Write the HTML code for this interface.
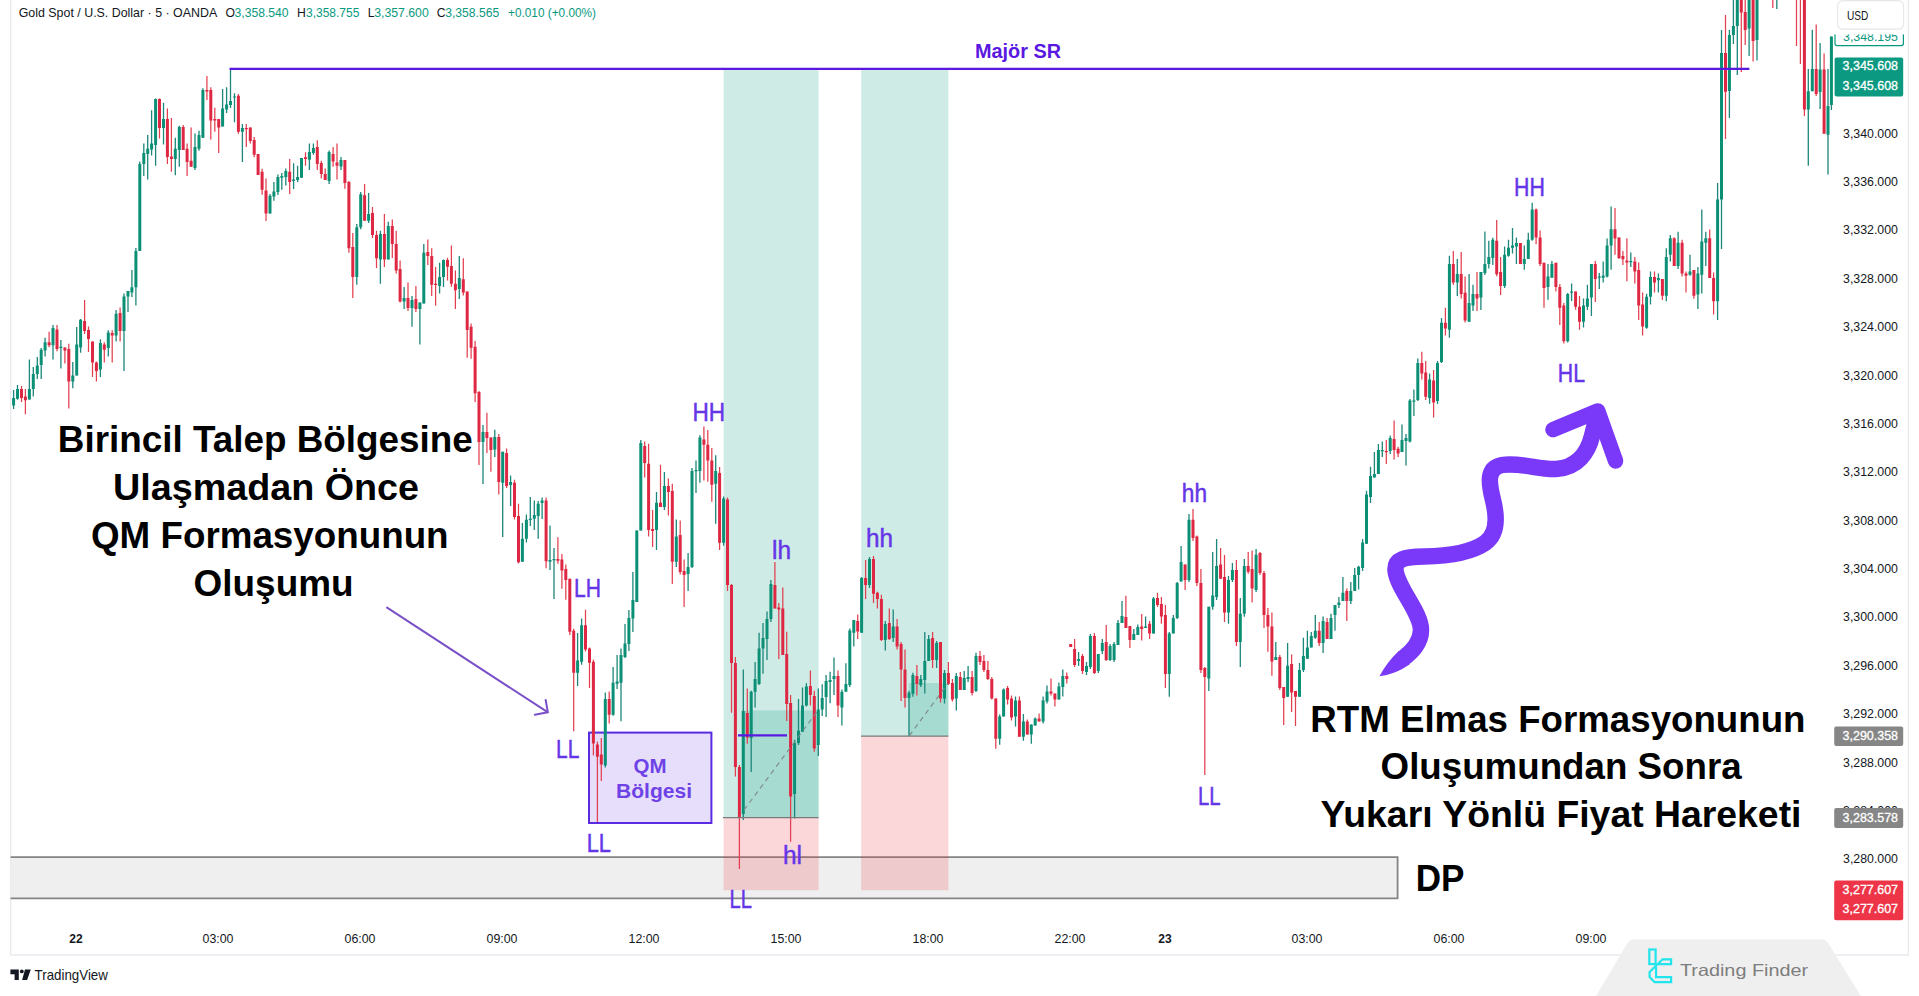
<!DOCTYPE html>
<html lang="tr"><head><meta charset="utf-8"><title>Gold Spot / U.S. Dollar - RTM Elmas Formasyonu</title>
<style>html,body{margin:0;padding:0;background:#fff;overflow:hidden}body{width:1919px;height:996px;font-family:"Liberation Sans",sans-serif}svg{display:block}text{font-family:"Liberation Sans",sans-serif}</style>
</head><body>
<svg width="1919" height="996" viewBox="0 0 1919 996">
<rect width="1919" height="996" fill="#ffffff"/>
<g stroke="#e9eaee" stroke-width="1.4" fill="none"><line x1="10.6" y1="0" x2="10.6" y2="955"/><line x1="1908.4" y1="0" x2="1908.4" y2="955"/><line x1="10" y1="955" x2="1909" y2="955"/></g>
<g id="dp"><rect x="10.6" y="857.2" width="1387" height="41.2" fill="#efefef"/><path d="M10.6 857.2H1397.6V898.4H10.6" fill="none" stroke="#848484" stroke-width="1.8"/></g>
<g id="positions">
<rect x="723.6" y="69" width="95" height="748.6" fill="#089981" fill-opacity="0.2"/>
<rect x="741.6" y="710.4" width="77" height="107.2" fill="#089981" fill-opacity="0.2"/>
<rect x="723.6" y="817.6" width="95" height="72.6" fill="#f23645" fill-opacity="0.2"/>
<rect x="861.2" y="69" width="87.2" height="667.2" fill="#089981" fill-opacity="0.2"/>
<rect x="908.8" y="683" width="39.6" height="53.2" fill="#089981" fill-opacity="0.2"/>
<rect x="861.2" y="736.2" width="87.2" height="154" fill="#f23645" fill-opacity="0.2"/>
</g>
<rect x="589" y="732.6" width="122.4" height="90.4" fill="#e6defb" stroke="#5a2be0" stroke-width="2"/>
<g id="candles" shape-rendering="auto">
<path d="M13.6 390V409M17.5 385V399.8M29.4 359.6V399.5M33.3 367V396.5M37.3 357V379M41.2 348V379M45.1 337.8V356.6M53 325V359.6M60.9 340V368.6M72.8 361.9V388.2M76.7 327V375.4M80.6 319V352.8M100.4 339.3V377M108.3 330.2V356.6M116.1 310V341.5M124 293.4V371M128 291V312M131.9 270V297M135.9 248V305.4M139.8 161.5V251M143.8 143.6V176M147.7 135V179.5M151.6 110.3V155.6M155.6 98.4V165.8M163.5 102.7V144.5M175.3 137.7V175.2M179.3 125.7V166.7M195 133.4V170M199 130.8V150.8M202.9 88.2V137.7M222.6 89V126.6M226.6 87.3V113M230.5 68V108M234.5 93.3V122.3M242.4 124V162M270 194V213.6M273.9 182V200.8M277.9 174.4V195M281.8 173V189.7M285.8 168.4V185.4M293.6 163.3V188.9M297.6 165.8V182M301.5 158V177.8M309.4 143.6V170M313.4 143.6V154.7M329.1 150.5V184M341 157V170M356.8 224V284.8M360.7 192V229.3M368.6 193V223M380.4 230.7V283.7M388.3 221.8V259.4M404.1 287V309M412 296V326.8M419.9 302.5V344.5M423.8 244V303.6M439.6 262.7V293.6M443.5 259.4V287M459.3 256V299M483 425V484M494.8 429.7V457M502.7 451.8V537M510.6 475.5V506M522.4 523V561.7M526.4 514.4V542.4M530.3 497V526M534.3 500.4V530M538.2 501V538.7M542.1 497.6V519M550 525.4V570M554 548V599M577.6 633V686M581.6 618.6V664.7M605.3 692.6V767.5M613.1 667V715.7M617.1 655V689M621 648.4V721.3M625 624V658M628.9 610V651M632.9 572V632M636.8 530.6V602M640.8 440V530.6M656.5 492V550M664.4 472V510M676.3 519.6V567M688.1 553V591M692 468V568M696 460.6V493M699.9 435.3V482.7M715.7 455.3V523.8M723.6 496.4V545.8M743.3 669.6V820M751.2 690.7V772M755.1 662V707.5M759.1 632.7V685M763 623V673.8M767 611.6V660M770.9 580V622M794.6 739.7V818.6M798.5 699V745M802.5 687.5V731.8M806.4 683.3V706.4M818.3 688.6V756M822.2 684.3V716M826.1 674.9V717M830.1 671.7V703.3M834 657.4V694.9M841.9 689.6V725.4M845.9 663.3V691.7M849.8 628.6V687M853.8 620V646.4M861.6 576.9V632.7M869.5 557V588M885.3 621V650.6M893.2 609.5V642M909 690.8V736M912.9 672.7V696.8M920.8 675V687M924.8 632V693.5M928.7 635V661M936.6 641V668M944.5 670V703.5M956.3 673V710.5M964.2 671V690M968.1 666V682M976 652.7V692M999.7 714.6V744.7M1003.6 688.5V716.6M1015.5 696.5V726.6M1023.4 714V740.7M1031.3 724.6V743.7M1035.2 717.6V725.6M1043.1 696.5V723.6M1047 685.4V703.5M1058.9 682.4V699.5M1062.8 669.4V696.5M1078.6 652V666M1086.5 662V675M1090.4 634V669M1098.3 654V673M1102.3 639V654M1110.1 644V661M1114.1 642V662M1118 620V645M1122 601V623M1133.8 629V640M1137.8 624.6V635M1145.6 616.6V628M1153.5 597V633.5M1169.3 632V696.7M1173.3 615V633.5M1177.2 582V619M1181.1 546V581.5M1189 514V582M1208.8 606.8V691M1212.7 552V609.8M1216.6 539V600M1228.5 576V623.7M1232.4 563V582M1240.3 598V667M1244.3 559V616.8M1256.1 549V592M1275.8 642V660M1287.6 643V696.7M1299.5 663V696.7M1303.4 637.7V672M1307.4 630.7V658.8M1311.3 632V647.6M1315.3 615V638.7M1323.1 616.6V653M1331 613.8V639M1335 605V630.7M1338.9 597V608M1342.9 577V601M1350.8 582V604M1354.7 568V591M1358.6 565.7V589.6M1362.6 539V571M1366.5 490.8V543.8M1370.5 466.7V503M1374.4 452V477.6M1378.4 443.9V474M1382.3 441.4V457M1390.2 435.4V454M1402 424.6V452M1406 434V465.5M1409.9 399V442.4M1413.9 389.6V416M1417.8 358.6V401M1429.6 373.6V403.7M1437.5 361V404M1441.5 318V363M1449.4 255.8V337.8M1457.3 259V296M1469.1 274V321.7M1473 284.7V311M1480.9 272V310M1484.9 231.6V275M1488.8 240.8V268.5M1492.8 237.7V265M1504.6 246.6V287.9M1508.5 239.7V256.8M1512.5 228V253.5M1516.4 237.4V264M1524.3 245.4V269.7M1528.3 232.7V259M1532.2 202.7V240.7M1548 264V299.7M1551.9 261V277.8M1567.7 293V342.5M1571.6 283.6V301M1583.5 298.6V327.4M1587.4 284.7V310M1591.4 264V316M1599.3 273V289M1603.2 261.6V282.4M1607.1 238.5V277.6M1611.1 206.6V269.7M1630.8 252.6V267M1646.6 293.8V328.7M1650.5 271.4V304.5M1658.4 273.6V292.4M1666.3 248.2V301.2M1670.3 235V261.5M1678.1 231.7V268.9M1690 254.8V275.7M1697.9 267V309M1701.8 209.6V293.5M1705.8 231.7V265.9M1717.6 183V320M1721.5 30V249M1729.4 29.7V118M1733.4 -5V44M1737.3 -10V75M1749.1 -10V56M1757 -10V60.5M1776.8 -20V9M1808.3 69V165.7M1812.3 29.7V91.3M1820.1 43V109M1828 69V174.6M1831.4 36.5V110" stroke="#1c877a" stroke-width="1.3" fill="none"/>
<path d="M21.5 386V402M25.4 389V414.3M49.1 331.7V347.3M57 325V351.3M64.9 347.6V363.4M68.8 343.8V408.6M84.6 300V334M88.5 326.5V352M92.5 341.5V377M96.4 361.6V381.4M104.3 342.3V362.6M112.2 330.2V362.6M120.1 307.6V341.5M159.5 98.4V138.5M167.4 108.6V164M171.4 118V171.8M183.2 124.9V150M187.1 143.6V176M191.1 127.4V166.7M206.9 76V100M210.8 87.3V139.4M214.8 107.8V131.7M218.7 119V153M238.4 94V133.7M246.3 124V147M250.3 127.4V143.6M254.2 137V157.3M258.1 154V175M262.1 168.8V194.8M266 178.6V221M289.7 159V194M305.5 152.2V165.8M317.3 140.2V170M321.3 160.7V178.6M325.2 168.4V180M333.1 147V166.7M337 143.6V179.5M344.9 160V188.7M348.9 181V252.8M352.8 233V298M364.6 184V220.7M372.5 207V238M376.5 230.7V268M384.4 214V267M392.3 219.6V258M396.2 230.7V273.4M400.1 260.5V302.4M408 282.6V311M415.9 286V312M427.8 239.5V265M431.7 248.3V296M435.6 267V305.8M447.5 257.8V280.4M451.4 245.5V286.7M455.4 270.4V309M463.3 258.3V295.5M467.2 291.4V357.7M471.1 323.5V358.8M475.1 341V402M479 391V465M486.9 412.7V453M490.9 437.5V471.7M498.8 434V494.5M506.6 448.5V488M514.5 479.8V519.6M518.5 503.8V563.4M546.1 497.6V568.3M557.9 537.3V563.8M561.9 554V588.8M565.8 564.5V599.8M569.8 578.8V635M573.7 628.7V731.3M585.5 609.7V651.5M589.5 647.4V688M593.4 659.7V755.6M597.4 741.5V822M601.3 738V781M609.2 691.5V723.5M644.7 441.6V477.4M648.6 443.7V536.4M652.6 510V547M660.5 464.8V507M668.4 478.5V515.4M672.3 483.8V583.9M680.2 520.6V574.4M684.1 559.6V607M703.9 426.4V480.6M707.8 430V481.7M711.8 448V501.7M719.6 467V550M727.5 497.6V591M731.5 584V712.8M735.4 657V776.4M739.4 765V869M747.3 688.6V743.7M774.9 562V608.5M778.8 603V659M782.8 587.4V655M786.7 631.7V721M790.6 695V841.7M810.4 670.6V705.4M814.3 690.7V751.8M838 670.6V717M857.7 614.4V639M865.6 560V599M873.5 556V603M877.4 591.7V608.5M881.4 594.8V641M889.3 608.5V640M897.1 619V649.4M901.1 642V701M905 649.6V707.5M916.9 665V695.5M932.6 632V668M940.5 642V702.5M948.4 662V685M952.4 679V701.5M960.3 672V690M972.1 671V695.5M980 651V665M983.9 655V672M987.9 661V680M991.8 677V699.5M995.8 698.5V748.7M1007.6 686V704.5M1011.5 695.5V720.6M1019.4 696.5V736.7M1027.3 719.6V734.6M1039.1 713.6V721.6M1051 678.4V695.5M1054.9 693.5V706.5M1066.8 672.4V683.4M1070.7 644V647M1074.6 639V667M1082.5 654V674M1094.4 633V674M1106.2 625V661M1125.9 595.7V628M1129.9 626V648M1141.7 614V640.5M1149.6 621V639M1157.5 592.7V607M1161.4 597V623.7M1165.4 605V688M1185.1 564.6V590M1193 509V541M1196.9 535.5V586M1200.9 569V673M1204.8 667V775M1220.6 548V578.7M1224.5 555V622M1236.4 560V646M1248.2 552V573.7M1252.1 550.6V602.6M1260 552V575M1264 571V628M1267.9 608V651.8M1271.9 612.4V675.7M1279.8 655V690M1283.7 687V725M1291.6 654.6V712M1295.5 691V726M1319.2 622V646M1327.1 618V639M1346.8 588.5V621M1386.3 440V464M1394.1 420.5V459.5M1398.1 446.7V457M1421.8 351.7V379.4M1425.7 361V400M1433.6 370V417.5M1445.4 307.8V335.5M1453.3 251V284.7M1461.2 252V298.6M1465.1 276.6V322.5M1477 272V311M1496.7 220V276.3M1500.6 257V295M1520.4 243V264M1536.1 208.6V244.3M1540.1 230.4V266M1544 262.8V307.8M1555.9 262.8V291.6M1559.8 284V325M1563.8 303V343.6M1575.6 291.6V309.7M1579.5 296V329.8M1595.3 261V302M1615 208V254.7M1619 237.4V259M1622.9 251V265M1626.9 238.3V281.3M1634.8 257V283.5M1638.7 262.6V320M1642.6 292.4V335.4M1654.5 271.4V292.4M1662.4 279V300M1674.2 237.3V265.9M1682.1 239.7V276.6M1686 271.4V292.4M1693.9 270V298.7M1709.7 229.4V278M1713.6 272.5V314.5M1725.5 15V139M1741.3 -10V72M1745.2 -10V45M1753.1 -10V61.6M1761 -20V-10M1764.9 -20V-10M1768.9 -20V-10M1772.8 -20V8M1780.7 -20V-10M1784.6 -20V-10M1788.6 -20V-10M1792.5 -20V-10M1796.5 -20V46M1800.4 -20V64M1804.4 -10V116M1816.2 24.5V96M1824.1 53.6V133.7" stroke="#e2404f" stroke-width="1.25" fill="none"/>
<path d="M12.1 398h3V405.5h-3zM16 389h3V398.8h-3zM27.9 389h3V399.5h-3zM31.8 374h3V389h-3zM35.8 365.6h3V374h-3zM39.7 349.8h3V365h-3zM43.6 342.3h3V350.6h-3zM51.5 328h3V345.3h-3zM59.4 346.8h3V348h-3zM71.3 375.4h3V381.4h-3zM75.2 344.5h3V375.4h-3zM79.1 319.7h3V347.6h-3zM98.9 343h3V369.4h-3zM106.8 332.5h3V348h-3zM114.6 313.7h3V335.5h-3zM122.5 296.4h3V331h-3zM126.5 291h3V296.4h-3zM130.4 287.3h3V292.6h-3zM134.4 251h3V287.3h-3zM138.3 164h3V251h-3zM142.3 153h3V164h-3zM146.2 148.7h3V154h-3zM150.1 143.6h3V149.6h-3zM154.1 99h3V145h-3zM162 119h3V128h-3zM173.8 148.8h3V159h-3zM177.8 127h3V150h-3zM193.5 147h3V168h-3zM197.5 135h3V148.8h-3zM201.4 90h3V137.7h-3zM221.1 108.6h3V126.6h-3zM225.1 104.4h3V109.5h-3zM229 101h3V105h-3zM233 96.4h3V97.6h-3zM240.9 128h3V131.7h-3zM268.5 195.7h3V213.6h-3zM272.4 191.4h3V196.5h-3zM276.4 177h3V192h-3zM280.3 176h3V177.8h-3zM284.3 171h3V177h-3zM292.1 179.5h3V181h-3zM296.1 177h3V180h-3zM300 158h3V177.8h-3zM307.9 152h3V159.8h-3zM311.9 148h3V153h-3zM327.6 152h3V181h-3zM339.5 160h3V166.6h-3zM355.3 227.3h3V277h-3zM359.2 194.2h3V227.3h-3zM367.1 214h3V220.7h-3zM378.9 234h3V259.4h-3zM386.8 226h3V259.4h-3zM402.6 298h3V301.4h-3zM410.5 300h3V308h-3zM418.4 302.5h3V309h-3zM422.3 252.8h3V303.6h-3zM438.1 277h3V286h-3zM442 260h3V277h-3zM457.8 278h3V289h-3zM481.5 432h3V442h-3zM493.3 437h3V449.6h-3zM501.2 451.8h3V482.8h-3zM509.1 482h3V485h-3zM520.9 538.7h3V561.7h-3zM524.9 519.7h3V538.7h-3zM528.8 518.8h3V520h-3zM532.8 515h3V518.8h-3zM536.7 503.8h3V516h-3zM540.6 500.4h3V503h-3zM548.5 560h3V561.7h-3zM552.5 559h3V560.2h-3zM576.1 660.6h3V672.7h-3zM580.1 625.2h3V661.7h-3zM603.8 699h3V765.5h-3zM611.6 682.7h3V714.7h-3zM615.6 681.5h3V683.8h-3zM619.5 655h3V682.7h-3zM623.5 643.5h3V657h-3zM627.4 618h3V644h-3zM631.4 600h3V618.6h-3zM635.3 530.6h3V602h-3zM639.3 443h3V530.6h-3zM655 502.7h3V530h-3zM662.9 486h3V507h-3zM674.8 536.4h3V561.7h-3zM686.6 567h3V574h-3zM690.5 471h3V567h-3zM694.5 470h3V471.2h-3zM698.4 437.4h3V471h-3zM714.2 471h3V483.8h-3zM722.1 498.5h3V542.8h-3zM741.8 711h3V814h-3zM749.7 691.7h3V738h-3zM753.6 679h3V691.7h-3zM757.6 648.5h3V684h-3zM761.5 638h3V648.5h-3zM765.5 619h3V639h-3zM769.4 584h3V619h-3zM793.1 742.7h3V794h-3zM797 730.7h3V743h-3zM801 705.4h3V731.8h-3zM804.9 686.4h3V705.4h-3zM816.8 709.6h3V745h-3zM820.7 698h3V709.6h-3zM824.6 681h3V697h-3zM828.6 680h3V682h-3zM832.5 676h3V679h-3zM840.4 691.7h3V707.5h-3zM844.4 684h3V691.7h-3zM848.3 630.6h3V685h-3zM852.3 620h3V632.7h-3zM860.1 578h3V632.7h-3zM868 559h3V585h-3zM883.8 624h3V640h-3zM891.7 626.4h3V638h-3zM907.5 692.8h3V698h-3zM911.4 674.9h3V693.8h-3zM919.3 679h3V685h-3zM923.3 661h3V680h-3zM927.2 639h3V661h-3zM935.1 643h3V660h-3zM943 673h3V698.5h-3zM954.8 676h3V698.5h-3zM962.7 678h3V690h-3zM966.6 677h3V679h-3zM974.5 656h3V691h-3zM998.2 716.6h3V738.7h-3zM1002.1 689.5h3V716.6h-3zM1014 700.5h3V716.6h-3zM1021.9 721.6h3V736.7h-3zM1029.8 724.6h3V734.6h-3zM1033.7 718.6h3V725.6h-3zM1041.6 700.5h3V721.6h-3zM1045.5 691.5h3V701.5h-3zM1057.4 686.4h3V699.5h-3zM1061.3 676h3V687h-3zM1077.1 659h3V661h-3zM1085 666h3V672h-3zM1088.9 636h3V667h-3zM1096.8 654h3V671h-3zM1100.8 643h3V651h-3zM1108.6 646h3V660h-3zM1112.6 644h3V660h-3zM1116.5 623h3V645h-3zM1120.5 616h3V623h-3zM1132.3 634h3V640h-3zM1136.3 627h3V635h-3zM1144.1 626.5h3V628h-3zM1152 598.4h3V633.5h-3zM1167.8 633.5h3V674h-3zM1171.8 618h3V633.5h-3zM1175.7 583h3V618h-3zM1179.6 562h3V581.5h-3zM1187.5 519.7h3V580h-3zM1207.3 606.8h3V678.5h-3zM1211.2 595.5h3V606.8h-3zM1215.1 566h3V597h-3zM1227 580h3V612.4h-3zM1230.9 570h3V580h-3zM1238.8 613.8h3V642h-3zM1242.8 566h3V613.8h-3zM1254.6 554.8h3V590h-3zM1274.3 657h3V660h-3zM1286.1 665.8h3V696.7h-3zM1298 670h3V696.7h-3zM1301.9 656h3V670h-3zM1305.9 647.6h3V658.8h-3zM1309.8 636h3V647.6h-3zM1313.8 630.7h3V637.7h-3zM1321.6 621h3V643h-3zM1329.5 618h3V639h-3zM1333.5 605h3V615h-3zM1337.4 602.6h3V605h-3zM1341.4 592.7h3V601h-3zM1349.3 591h3V601h-3zM1353.2 575h3V591h-3zM1357.1 566.7h3V575h-3zM1361.1 542.6h3V568h-3zM1365 494.5h3V543.8h-3zM1369 476h3V497h-3zM1372.9 474h3V477.6h-3zM1376.9 450h3V474h-3zM1380.8 450h3V451.2h-3zM1388.7 438h3V451h-3zM1400.5 440h3V452h-3zM1404.5 438h3V441h-3zM1408.4 400.5h3V441.4h-3zM1412.4 400.5h3V401.7h-3zM1416.3 363h3V400h-3zM1428.1 379.4h3V398h-3zM1436 363h3V401h-3zM1440 322.8h3V362h-3zM1447.9 264h3V329.8h-3zM1455.8 274h3V282.4h-3zM1467.6 303h3V321.7h-3zM1471.5 294h3V305.5h-3zM1479.4 272h3V297.4h-3zM1483.4 264h3V273h-3zM1487.3 257h3V264h-3zM1491.3 239.7h3V258h-3zM1503.1 254.7h3V285.9h-3zM1507 247.8h3V255.8h-3zM1511 245.4h3V247.8h-3zM1514.9 243h3V246.6h-3zM1522.8 259h3V264h-3zM1526.8 239.7h3V259h-3zM1530.7 209.6h3V239.7h-3zM1546.5 276.6h3V287h-3zM1550.4 264h3V277.8h-3zM1566.2 294h3V341.3h-3zM1570.1 291.6h3V292.8h-3zM1582 305.5h3V321.7h-3zM1585.9 298.6h3V306.7h-3zM1589.9 264h3V297.4h-3zM1597.8 276.6h3V277.8h-3zM1601.7 275.5h3V277.8h-3zM1605.6 245.4h3V276.6h-3zM1609.6 229.3h3V245.4h-3zM1629.3 261h3V262.2h-3zM1645.1 296.8h3V327.7h-3zM1649 277h3V296.8h-3zM1656.9 278h3V280.2h-3zM1664.8 257h3V295.7h-3zM1668.8 238.3h3V254.8h-3zM1676.6 242.7h3V265.9h-3zM1688.5 271.4h3V274.7h-3zM1696.4 273.6h3V294.6h-3zM1700.3 241.6h3V274.7h-3zM1704.3 238.3h3V242.7h-3zM1716.1 199.6h3V301.2h-3zM1720 53h3V199.6h-3zM1727.9 35h3V91h-3zM1731.9 26h3V35h-3zM1735.8 -10h3V26h-3zM1747.6 -10h3V28.5h-3zM1755.5 -10h3V40h-3zM1775.3 -20h3V-10h-3zM1806.8 91.3h3V109.4h-3zM1810.8 69h3V91.3h-3zM1818.6 69.6h3V92h-3zM1826.5 106h3V134.8h-3zM1829.9 36.5h3V105h-3z" fill="#0b9076"/>
<path d="M20 389h3V398h-3zM23.9 396.5h3V400.3h-3zM47.6 342.3h3V345.3h-3zM55.5 329.5h3V349h-3zM63.4 347.6h3V350.6h-3zM67.3 349h3V381.4h-3zM83.1 321h3V331h-3zM87 330h3V339h-3zM91 341.5h3V362.6h-3zM94.9 362.6h3V371h-3zM102.8 344.5h3V349.8h-3zM110.7 333h3V335.5h-3zM118.6 313h3V331h-3zM158 99h3V128h-3zM165.9 119h3V157h-3zM169.9 156.4h3V159h-3zM181.7 127h3V150h-3zM185.6 148.8h3V162h-3zM189.6 160.7h3V166.7h-3zM205.4 90h3V91.6h-3zM209.3 90h3V120.6h-3zM213.3 119h3V120.6h-3zM217.2 119h3V127.4h-3zM236.9 95.8h3V131.7h-3zM244.8 128h3V129.2h-3zM248.8 127.4h3V141h-3zM252.7 140h3V154.7h-3zM256.6 154h3V175h-3zM260.6 171.8h3V189.7h-3zM264.5 190.6h3V213.6h-3zM288.2 171.8h3V182h-3zM304 157.3h3V159h-3zM315.8 147h3V164h-3zM319.8 163h3V174h-3zM323.7 174h3V180h-3zM331.6 154h3V161.6h-3zM335.5 162.4h3V165.8h-3zM343.4 160h3V183h-3zM347.4 182h3V248.3h-3zM351.3 247h3V277h-3zM363.1 195.3h3V220.7h-3zM371 213h3V235h-3zM375 235h3V258.3h-3zM382.9 234h3V259.4h-3zM390.8 226h3V244h-3zM394.7 244h3V270.4h-3zM398.6 269h3V301.4h-3zM406.5 298h3V308h-3zM414.4 299h3V309h-3zM426.3 252h3V256h-3zM430.2 256h3V284.8h-3zM434.1 283.7h3V284.9h-3zM446 260h3V266.7h-3zM449.9 266h3V283.7h-3zM453.9 283.7h3V290.3h-3zM461.8 279.3h3V292.5h-3zM465.7 291.4h3V330h-3zM469.6 326.8h3V347.8h-3zM473.6 346.7h3V393.3h-3zM477.5 392h3V442h-3zM485.4 432h3V438h-3zM489.4 437.5h3V450h-3zM497.3 437h3V482h-3zM505.1 453h3V486h-3zM513 482.8h3V517h-3zM517 516h3V562.3h-3zM544.6 500.4h3V561.2h-3zM556.4 559h3V560.8h-3zM560.4 559.4h3V570.5h-3zM564.3 569h3V580h-3zM568.3 578.8h3V631.8h-3zM572.2 630.7h3V672.7h-3zM584 625.2h3V649.5h-3zM588 648.4h3V662.8h-3zM591.9 661.7h3V743.4h-3zM595.9 744.5h3V756.7h-3zM599.8 754.5h3V764.4h-3zM607.7 699h3V714.7h-3zM643.2 446h3V463h-3zM647.1 463.7h3V530h-3zM651.1 529h3V531h-3zM659 502.7h3V507h-3zM666.9 486h3V492h-3zM670.8 491h3V561.7h-3zM678.7 535h3V572h-3zM682.6 571h3V575h-3zM702.4 439.5h3V444.8h-3zM706.3 444.8h3V460.6h-3zM710.3 460.6h3V484.8h-3zM718.1 473h3V542.8h-3zM726 499.6h3V585h-3zM730 585h3V663h-3zM733.9 663h3V767h-3zM737.9 767h3V817.5h-3zM745.8 713h3V737.4h-3zM773.4 585h3V608.5h-3zM777.3 607.4h3V609.5h-3zM781.3 608.5h3V655h-3zM785.2 654h3V704h-3zM789.1 703h3V796.4h-3zM808.9 686h3V695h-3zM812.8 696h3V748.6h-3zM836.5 676h3V705.4h-3zM856.2 621h3V631.6h-3zM864.1 578h3V585h-3zM872 559h3V593.7h-3zM875.9 592.7h3V599h-3zM879.9 599h3V640h-3zM887.8 623h3V639h-3zM895.6 626.4h3V646.4h-3zM899.6 644h3V669.6h-3zM903.5 669.6h3V698h-3zM915.4 676h3V684h-3zM931.1 638h3V660h-3zM939 642h3V698.5h-3zM946.9 673h3V684h-3zM950.9 683h3V699.5h-3zM958.8 677h3V690h-3zM970.6 677h3V693h-3zM978.5 656h3V662h-3zM982.4 661h3V670h-3zM986.4 670h3V679h-3zM990.3 679h3V698.5h-3zM994.3 698.5h3V738.7h-3zM1006.1 688h3V699.5h-3zM1010 698.5h3V717.6h-3zM1017.9 700.5h3V736.7h-3zM1025.8 721.6h3V734.6h-3zM1037.6 718.6h3V721.6h-3zM1049.5 691.5h3V693.5h-3zM1053.4 693.5h3V699.5h-3zM1065.3 676h3V679h-3zM1069.2 644h3V647h-3zM1073.1 649h3V665h-3zM1081 656h3V671h-3zM1092.9 636h3V673h-3zM1104.7 642h3V660h-3zM1124.4 617h3V628h-3zM1128.4 626h3V640h-3zM1140.2 626.5h3V629h-3zM1148.1 623.7h3V633.5h-3zM1156 598h3V605h-3zM1159.9 604h3V616.6h-3zM1163.9 615h3V674h-3zM1183.6 564.6h3V580h-3zM1191.5 519.7h3V538h-3zM1195.4 536.5h3V583h-3zM1199.4 583h3V670h-3zM1203.3 668h3V677h-3zM1219.1 564.6h3V578.7h-3zM1223 577h3V612.4h-3zM1234.9 570h3V642h-3zM1246.7 566h3V571.7h-3zM1250.6 569h3V588.5h-3zM1258.5 553h3V573h-3zM1262.5 573h3V615h-3zM1266.4 615h3V626.5h-3zM1270.4 626.5h3V661.6h-3zM1278.3 657h3V688h-3zM1282.2 687h3V698h-3zM1290.1 664h3V692.5h-3zM1294 691h3V696.7h-3zM1317.7 630.7h3V643h-3zM1325.6 622h3V639h-3zM1345.3 591h3V601h-3zM1384.8 451h3V452.2h-3zM1392.6 439h3V450h-3zM1396.6 448.7h3V453.5h-3zM1420.3 363h3V373.6h-3zM1424.2 372.5h3V396.7h-3zM1432.1 380.6h3V402.5h-3zM1443.9 322.8h3V328.6h-3zM1451.8 264h3V282.4h-3zM1459.7 274h3V294h-3zM1463.6 292.8h3V320.5h-3zM1475.5 294h3V298.6h-3zM1495.2 240.8h3V274.3h-3zM1499.1 272h3V285.9h-3zM1518.9 243h3V264h-3zM1534.6 209.6h3V237.4h-3zM1538.6 237.4h3V264h-3zM1542.5 262.8h3V288h-3zM1554.4 262.8h3V287h-3zM1558.3 287h3V307.8h-3zM1562.3 305.5h3V341.3h-3zM1574.1 291.6h3V306.7h-3zM1578 306.7h3V321.7h-3zM1593.8 264h3V279h-3zM1613.5 229.3h3V238.5h-3zM1617.5 237.4h3V258h-3zM1621.4 256h3V259.3h-3zM1625.4 260.4h3V262.6h-3zM1633.3 261.5h3V271.4h-3zM1637.2 270h3V305.6h-3zM1641.1 304.5h3V326.6h-3zM1653 277h3V282.4h-3zM1660.9 279h3V295.7h-3zM1672.7 238.3h3V265.9h-3zM1680.6 242.7h3V273.6h-3zM1684.5 273.6h3V275.8h-3zM1692.4 270h3V295.7h-3zM1708.2 238.3h3V278h-3zM1712.1 278h3V301.2h-3zM1724 53h3V91.7h-3zM1739.8 -10h3V12.5h-3zM1743.7 12h3V30h-3zM1751.6 -10h3V41h-3zM1759.5 -20h3V-15h-3zM1763.4 -20h3V-15h-3zM1767.4 -20h3V-15h-3zM1771.3 -20h3V-10h-3zM1779.2 -20h3V-15h-3zM1783.1 -20h3V-15h-3zM1787.1 -20h3V-15h-3zM1791 -20h3V-15h-3zM1795 -20h3V-10h-3zM1798.9 -20h3V-10h-3zM1802.9 -10h3V109.4h-3zM1814.7 69h3V94h-3zM1822.6 69.6h3V133.7h-3z" fill="#de2742"/>
</g>
<line x1="229.6" y1="68.8" x2="1749.4" y2="68.8" stroke="#5a18e0" stroke-width="2.2"/>
<line x1="738" y1="735.4" x2="787" y2="735.4" stroke="#5a18e0" stroke-width="2.2"/>
<g stroke="#7a7a7a" stroke-width="1.2"><line x1="723" y1="817.6" x2="818.6" y2="817.6"/><line x1="861" y1="736.2" x2="948.4" y2="736.2"/></g>
<g stroke="#7f8a88" stroke-width="1.1" stroke-dasharray="5 4" fill="none"><line x1="744" y1="810" x2="818" y2="710.4"/><line x1="909.4" y1="735.6" x2="948" y2="683.4"/></g>
<g stroke="#7a50c8" stroke-width="2" fill="none" stroke-linecap="round" stroke-linejoin="round"><line x1="387.1" y1="607.6" x2="547.6" y2="712.2"/><polyline points="534.8,714.8 547.8,712.3 545.7,700"/></g>
<path d="M1403 658.6C1412 651.6 1421 643 1421 630C1421 612 1397 588 1395.5 570C1395 559 1404 557 1424 556.6C1452 556 1472 552 1485 543C1498 534 1497 516 1493 500C1489 484 1486 468 1502 465C1520 462 1540 470 1556 469C1578 467.6 1588 452 1592 436C1594 428 1596 420 1597.6 414" fill="none" stroke="#7a38f8" stroke-width="16.5" stroke-linejoin="round"/>
<path d="M1553 429.6L1597.8 411L1615.6 461" fill="none" stroke="#7a38f8" stroke-width="15.5" stroke-linecap="round" stroke-linejoin="round"/>
<path d="M1379.4 676.2Q1387 662 1399 650.7L1409.8 664.3Q1395 674.8 1379.4 676.2z" fill="#7a38f8"/>
<text x="18.7" y="16.8" font-size="12.2" fill="#131722" textLength="198.5" lengthAdjust="spacingAndGlyphs">Gold Spot / U.S. Dollar · 5 · OANDA</text>
<text x="225.5" y="16.8" font-size="12.2" fill="#131722">O</text>
<text x="234.6" y="16.8" font-size="12.2" fill="#089981" textLength="54" lengthAdjust="spacingAndGlyphs">3,358.540</text>
<text x="297" y="16.8" font-size="12.2" fill="#131722">H</text>
<text x="306" y="16.8" font-size="12.2" fill="#089981" textLength="53.4" lengthAdjust="spacingAndGlyphs">3,358.755</text>
<text x="367.7" y="16.8" font-size="12.2" fill="#131722">L</text>
<text x="374.2" y="16.8" font-size="12.2" fill="#089981" textLength="54.6" lengthAdjust="spacingAndGlyphs">3,357.600</text>
<text x="436.8" y="16.8" font-size="12.2" fill="#131722">C</text>
<text x="445.2" y="16.8" font-size="12.2" fill="#089981" textLength="54" lengthAdjust="spacingAndGlyphs">3,358.565</text>
<text x="508" y="16.8" font-size="12.2" fill="#089981" textLength="88" lengthAdjust="spacingAndGlyphs">+0.010 (+0.00%)</text>
<text x="1843" y="863.3" font-size="12" fill="#131722" textLength="55" lengthAdjust="spacingAndGlyphs">3,280.000</text>
<text x="1843" y="814.9" font-size="12" fill="#131722" textLength="55" lengthAdjust="spacingAndGlyphs">3,284.000</text>
<text x="1843" y="766.5" font-size="12" fill="#131722" textLength="55" lengthAdjust="spacingAndGlyphs">3,288.000</text>
<text x="1843" y="718.2" font-size="12" fill="#131722" textLength="55" lengthAdjust="spacingAndGlyphs">3,292.000</text>
<text x="1843" y="669.8" font-size="12" fill="#131722" textLength="55" lengthAdjust="spacingAndGlyphs">3,296.000</text>
<text x="1843" y="621.4" font-size="12" fill="#131722" textLength="55" lengthAdjust="spacingAndGlyphs">3,300.000</text>
<text x="1843" y="573" font-size="12" fill="#131722" textLength="55" lengthAdjust="spacingAndGlyphs">3,304.000</text>
<text x="1843" y="524.7" font-size="12" fill="#131722" textLength="55" lengthAdjust="spacingAndGlyphs">3,308.000</text>
<text x="1843" y="476.3" font-size="12" fill="#131722" textLength="55" lengthAdjust="spacingAndGlyphs">3,312.000</text>
<text x="1843" y="427.9" font-size="12" fill="#131722" textLength="55" lengthAdjust="spacingAndGlyphs">3,316.000</text>
<text x="1843" y="379.6" font-size="12" fill="#131722" textLength="55" lengthAdjust="spacingAndGlyphs">3,320.000</text>
<text x="1843" y="331.2" font-size="12" fill="#131722" textLength="55" lengthAdjust="spacingAndGlyphs">3,324.000</text>
<text x="1843" y="282.8" font-size="12" fill="#131722" textLength="55" lengthAdjust="spacingAndGlyphs">3,328.000</text>
<text x="1843" y="234.4" font-size="12" fill="#131722" textLength="55" lengthAdjust="spacingAndGlyphs">3,332.000</text>
<text x="1843" y="186.1" font-size="12" fill="#131722" textLength="55" lengthAdjust="spacingAndGlyphs">3,336.000</text>
<text x="1843" y="137.7" font-size="12" fill="#131722" textLength="55" lengthAdjust="spacingAndGlyphs">3,340.000</text>
<rect x="1835" y="26" width="68.4" height="19.6" rx="2" fill="#fff" stroke="#089981" stroke-width="1.2"/>
<text x="1843" y="41.2" font-size="12" fill="#089981" textLength="55" lengthAdjust="spacingAndGlyphs">3,348.195</text>
<rect x="1832" y="0" width="75" height="34.4" fill="#fff"/>
<rect x="1837.6" y="0.6" width="66" height="28.6" rx="5" fill="#fff" stroke="#e7e8ec" stroke-width="1.2"/>
<text x="1847" y="20.4" font-size="12" fill="#131722" textLength="21.4" lengthAdjust="spacingAndGlyphs">USD</text>
<rect x="1834.6" y="57.4" width="68.6" height="39.2" rx="2" fill="#0b9981"/>
<text x="1842.6" y="70.4" font-size="12" fill="#fff" textLength="55.4" lengthAdjust="spacingAndGlyphs" stroke="#fff" stroke-width="0.3">3,345.608</text>
<text x="1842.6" y="90.4" font-size="12" fill="#fff" textLength="55.4" lengthAdjust="spacingAndGlyphs" stroke="#fff" stroke-width="0.3">3,345.608</text>
<rect x="1834.2" y="726.4" width="69" height="19.6" rx="2" fill="#868686"/>
<text x="1842.6" y="740.4" font-size="12" fill="#fff" textLength="55.4" lengthAdjust="spacingAndGlyphs" stroke="#fff" stroke-width="0.3">3,290.358</text>
<rect x="1834.2" y="808" width="69" height="20" rx="2" fill="#868686"/>
<text x="1842.6" y="822.2" font-size="12" fill="#fff" textLength="55.4" lengthAdjust="spacingAndGlyphs" stroke="#fff" stroke-width="0.3">3,283.578</text>
<rect x="1834.2" y="880.6" width="69" height="39.6" rx="2" fill="#ee3547"/>
<text x="1842.6" y="893.6" font-size="12" fill="#fff" textLength="55.4" lengthAdjust="spacingAndGlyphs" stroke="#fff" stroke-width="0.3">3,277.607</text>
<text x="1842.6" y="913.4" font-size="12" fill="#fff" textLength="55.4" lengthAdjust="spacingAndGlyphs" stroke="#fff" stroke-width="0.3">3,277.607</text>
<text x="76" y="943" font-size="12" fill="#131722" font-weight="bold" text-anchor="middle" textLength="13.4" lengthAdjust="spacingAndGlyphs">22</text>
<text x="218" y="943" font-size="12" fill="#131722" text-anchor="middle" textLength="31" lengthAdjust="spacingAndGlyphs">03:00</text>
<text x="360" y="943" font-size="12" fill="#131722" text-anchor="middle" textLength="31" lengthAdjust="spacingAndGlyphs">06:00</text>
<text x="502" y="943" font-size="12" fill="#131722" text-anchor="middle" textLength="31" lengthAdjust="spacingAndGlyphs">09:00</text>
<text x="644" y="943" font-size="12" fill="#131722" text-anchor="middle" textLength="31" lengthAdjust="spacingAndGlyphs">12:00</text>
<text x="786" y="943" font-size="12" fill="#131722" text-anchor="middle" textLength="31" lengthAdjust="spacingAndGlyphs">15:00</text>
<text x="928" y="943" font-size="12" fill="#131722" text-anchor="middle" textLength="31" lengthAdjust="spacingAndGlyphs">18:00</text>
<text x="1070" y="943" font-size="12" fill="#131722" text-anchor="middle" textLength="31" lengthAdjust="spacingAndGlyphs">22:00</text>
<text x="1165" y="943" font-size="12" fill="#131722" font-weight="bold" text-anchor="middle" textLength="13.4" lengthAdjust="spacingAndGlyphs">23</text>
<text x="1307" y="943" font-size="12" fill="#131722" text-anchor="middle" textLength="31" lengthAdjust="spacingAndGlyphs">03:00</text>
<text x="1449" y="943" font-size="12" fill="#131722" text-anchor="middle" textLength="31" lengthAdjust="spacingAndGlyphs">06:00</text>
<text x="1591" y="943" font-size="12" fill="#131722" text-anchor="middle" textLength="31" lengthAdjust="spacingAndGlyphs">09:00</text>
<text x="692.4" y="420.6" font-size="26" fill="#6535e8" textLength="32.6" lengthAdjust="spacingAndGlyphs" stroke="#6535e8" stroke-width="0.5">HH</text>
<text x="574" y="597" font-size="26" fill="#6535e8" textLength="27" lengthAdjust="spacingAndGlyphs" stroke="#6535e8" stroke-width="0.5">LH</text>
<text x="772" y="559" font-size="26" fill="#6535e8" textLength="19" lengthAdjust="spacingAndGlyphs" stroke="#6535e8" stroke-width="0.5">lh</text>
<text x="866" y="546.5" font-size="26" fill="#6535e8" textLength="27" lengthAdjust="spacingAndGlyphs" stroke="#6535e8" stroke-width="0.5">hh</text>
<text x="556" y="758.4" font-size="26" fill="#6535e8" textLength="23.3" lengthAdjust="spacingAndGlyphs" stroke="#6535e8" stroke-width="0.5">LL</text>
<text x="586.7" y="852" font-size="26" fill="#6535e8" textLength="24.3" lengthAdjust="spacingAndGlyphs" stroke="#6535e8" stroke-width="0.5">LL</text>
<text x="729.6" y="907.8" font-size="26" fill="#6535e8" textLength="22.4" lengthAdjust="spacingAndGlyphs" stroke="#6535e8" stroke-width="0.5">LL</text>
<text x="783" y="863.7" font-size="26" fill="#6535e8" textLength="19" lengthAdjust="spacingAndGlyphs" stroke="#6535e8" stroke-width="0.5">hl</text>
<text x="1181.8" y="501.6" font-size="26" fill="#6535e8" textLength="25.2" lengthAdjust="spacingAndGlyphs" stroke="#6535e8" stroke-width="0.5">hh</text>
<text x="1198" y="805" font-size="26" fill="#6535e8" textLength="22.6" lengthAdjust="spacingAndGlyphs" stroke="#6535e8" stroke-width="0.5">LL</text>
<text x="1514" y="195.8" font-size="26" fill="#6535e8" textLength="30.8" lengthAdjust="spacingAndGlyphs" stroke="#6535e8" stroke-width="0.5">HH</text>
<text x="1557.8" y="381.8" font-size="26" fill="#6535e8" textLength="27.2" lengthAdjust="spacingAndGlyphs" stroke="#6535e8" stroke-width="0.5">HL</text>
<text x="650" y="773" font-size="20" fill="#6e42e6" font-weight="bold" text-anchor="middle" textLength="33" lengthAdjust="spacingAndGlyphs">QM</text>
<text x="654" y="797.6" font-size="20" fill="#6e42e6" font-weight="bold" text-anchor="middle" textLength="76" lengthAdjust="spacingAndGlyphs">Bölgesi</text>
<text x="975" y="57.6" font-size="20" fill="#5a18e0" font-weight="bold" textLength="86" lengthAdjust="spacingAndGlyphs">Majör SR</text>
<text x="57.8" y="452.3" font-size="37" fill="#000" font-weight="bold" textLength="414.9" lengthAdjust="spacingAndGlyphs">Birincil Talep Bölgesine</text>
<text x="113" y="500.3" font-size="37" fill="#000" font-weight="bold" textLength="306" lengthAdjust="spacingAndGlyphs">Ulaşmadan Önce</text>
<text x="91" y="548.4" font-size="37" fill="#000" font-weight="bold" textLength="357.6" lengthAdjust="spacingAndGlyphs">QM Formasyonunun</text>
<text x="193.6" y="596.2" font-size="37" fill="#000" font-weight="bold" textLength="160" lengthAdjust="spacingAndGlyphs">Oluşumu</text>
<text x="1310.3" y="731.5" font-size="37" fill="#000" font-weight="bold" textLength="495.2" lengthAdjust="spacingAndGlyphs">RTM Elmas Formasyonunun</text>
<text x="1380.6" y="779.3" font-size="37" fill="#000" font-weight="bold" textLength="361" lengthAdjust="spacingAndGlyphs">Oluşumundan Sonra</text>
<text x="1320.4" y="827.2" font-size="37" fill="#000" font-weight="bold" textLength="481.1" lengthAdjust="spacingAndGlyphs">Yukarı Yönlü Fiyat Hareketi</text>
<text x="1415.8" y="891" font-size="37" fill="#000" font-weight="bold" textLength="48.7" lengthAdjust="spacingAndGlyphs">DP</text>
<g fill="#131722"><path d="M10.4 969.6H18.8V980H14.6V974.2H10.4z"/><circle cx="21.8" cy="971.4" r="1.9"/><path d="M25 969.6H30.8L27.1 980H22.1z"/></g>
<text x="34.6" y="980" font-size="14.5" fill="#131722" textLength="73.3" lengthAdjust="spacingAndGlyphs">TradingView</text>
<path d="M1596 996L1627.5 943Q1630 939.2 1634.5 939.2H1821Q1825.5 939.2 1828 943L1861 996z" fill="#efefef"/>
<g fill="none" stroke="#21e4ec" stroke-width="2.2" stroke-linejoin="miter"><rect x="1649.3" y="949.5" width="6.3" height="14.6"/><path d="M1658.3 964.1H1671.1V959.3H1662.6L1649.6 971.9V977.1L1654.6 982.2H1671.1V977.1H1656.1V967"/></g>
<text x="1680" y="975.8" font-size="16.5" fill="#7d7d7d" textLength="128" lengthAdjust="spacingAndGlyphs">Trading Finder</text>
</svg>
</body></html>
